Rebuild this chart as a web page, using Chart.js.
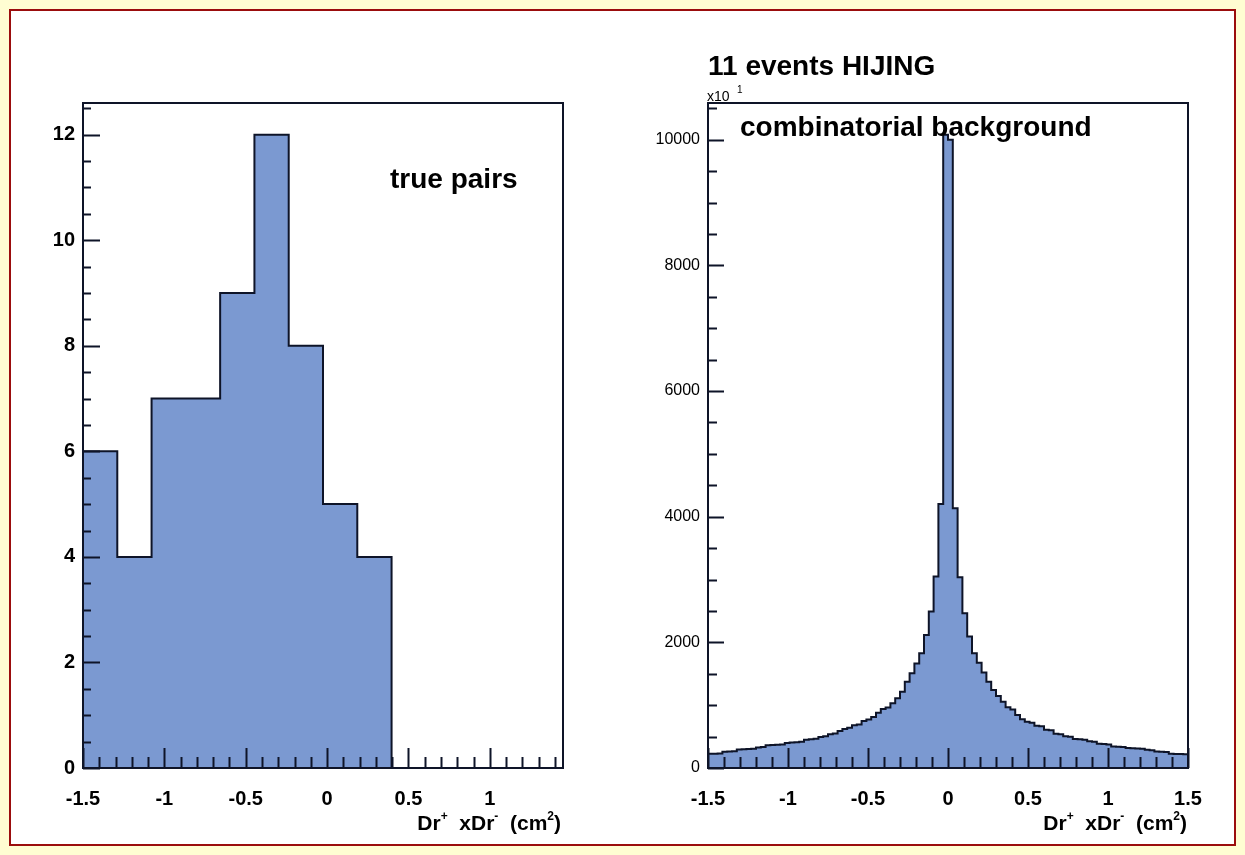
<!DOCTYPE html>
<html lang="en">
<head>
<meta charset="UTF-8">
<title>Dr+ x Dr- : true pairs and combinatorial background</title>
<script src="https://cdn.jsdelivr.net/npm/chart.js"></script>
<style>
  body { margin: 0; background: #fffdd2; width: 1245px; height: 855px; overflow: hidden; position: relative; }
  #frame { position: absolute; left: 9px; top: 9px; width: 1223px; height: 833px; border: 2px solid #9b0d0d; background: #fff; }
  canvas { position: absolute; }
</style>
</head>
<body>
<div id="frame"></div>
<canvas id="truePairs" width="600" height="830" style="left:12px;top:12px;width:600px;height:830px"></canvas>
<canvas id="combBkg" width="621" height="830" style="left:612px;top:12px;width:621px;height:830px"></canvas>

<script>
// true pairs: 14 bins between -1.5 and 1.45
const pairLo = -1.5;
const pairHi = 1.45;
const pairCounts = [6, 4, 7, 7, 9, 12, 8, 5, 4, 0, 0, 0, 0, 0];
const pairXTicks = [-1.5, -1, -0.5, 0, 0.5, 1];
const pairYTicks = [0, 2, 4, 6, 8, 10, 12];

// combinatorial background (x10): 100 bins between -1.5 and 1.5
const bkgLo = -1.5;
const bkgHi = 1.5;
const bkgCounts = [
  225, 228, 232, 258, 262, 265, 296, 300, 304, 308,
  328, 334, 362, 366, 370, 374, 398, 404, 410, 418,
  448, 456, 466, 494, 504, 536, 548, 588, 622, 640,
  680, 694, 748, 770, 810, 880, 940, 962, 1030, 1110,
  1215, 1372, 1508, 1665, 1826, 2118, 2490, 3046, 4200, 10080,
  10000, 4135, 3036, 2463, 2091, 1826, 1677, 1518, 1374, 1242,
  1146, 1056, 966, 930, 844, 775, 735, 720, 672, 664,
  610, 600, 546, 536, 504, 496, 462, 456, 450, 424,
  416, 386, 382, 376, 344, 340, 336, 318, 314, 310,
  306, 290, 284, 264, 260, 256, 226, 224, 222, 220
];
const bkgXTicks = [-1.5, -1, -0.5, 0, 0.5, 1, 1.5];
const bkgYTicks = [0, 2000, 4000, 6000, 8000, 10000];

const FONT = "'Liberation Sans', Arial, Helvetica, sans-serif";
const FILL = '#7b99d1';
const INK = '#0e1428';

// outline points of a histogram, one per bin edge (drawn stepped)
function histPoints(lo, hi, counts) {
  const w = (hi - lo) / counts.length;
  const pts = [{x: lo, y: 0}];
  counts.forEach((c, i) => pts.push({x: lo + i * w, y: c}));
  pts.push({x: hi, y: counts[counts.length - 1]});
  pts.push({x: hi, y: 0});
  return pts;
}

function multiples(min, max, step) {
  const out = [];
  for (let k = Math.ceil(min / step - 1e-6); k * step <= max + 1e-6; k++) out.push(k * step);
  return out;
}

// frame box plus inward tick marks, ROOT style
const axisTicks = {
  id: 'axisTicks',
  afterDatasetsDraw(chart, args, o) {
    const {ctx, chartArea: a} = chart;
    const x = chart.scales.x, y = chart.scales.y;
    const isMajor = (v, step) => Math.abs(v / step - Math.round(v / step)) < 1e-6;
    ctx.save();
    ctx.strokeStyle = INK;
    ctx.lineWidth = 2;
    ctx.beginPath();
    multiples(x.min, x.max, o.xMinor).forEach(v => {
      const len = isMajor(v, o.xMajor) ? o.xMajorLen : o.xMinorLen;
      const px = Math.round(x.getPixelForValue(v)) + 0.5;
      ctx.moveTo(px, a.bottom);
      ctx.lineTo(px, a.bottom - len);
    });
    multiples(y.min, y.max, o.yMinor).forEach(v => {
      const len = isMajor(v, o.yMajor) ? o.yMajorLen : o.yMinorLen;
      const py = Math.round(y.getPixelForValue(v)) + 0.5;
      ctx.moveTo(a.left, py);
      ctx.lineTo(a.left + len, py);
    });
    ctx.stroke();
    ctx.strokeRect(a.left, a.top, a.width, a.height);
    ctx.restore();
  }
};

function drawAxisTitle(ctx, right, baseline) {
  const big = 'bold 21px ' + FONT, sup = 'bold 12px ' + FONT;
  const parts = [['Dr', big, 0], ['+', sup, -10], ['  x', big, 0], ['Dr', big, 0], ['-', sup, -10],
                 ['  (cm', big, 0], ['2', sup, -10], [')', big, 0]];
  let w = 0;
  parts.forEach(p => { ctx.font = p[1]; w += ctx.measureText(p[0]).width; });
  let cx = right - w;
  parts.forEach(p => {
    ctx.font = p[1];
    ctx.fillText(p[0], cx, baseline + p[2]);
    cx += ctx.measureText(p[0]).width;
  });
}

function histConfig(lo, hi, counts, xTicks, yTicks, ymax, yFont, yAxisWidth, padRight, ticks, labels) {
  return {
    type: 'line',
    data: {
      datasets: [{
        data: histPoints(lo, hi, counts),
        stepped: 'before',
        fill: 'origin',
        backgroundColor: FILL,
        borderColor: INK,
        borderWidth: 2,
        pointRadius: 0,
        tension: 0
      }]
    },
    options: {
      responsive: false,
      animation: false,
      layout: {padding: {top: 91, right: padRight, left: 0, bottom: 0}},
      plugins: {legend: {display: false}, tooltip: {enabled: false}, axisTicks: ticks},
      scales: {
        x: {
          type: 'linear', min: lo, max: hi,
          afterBuildTicks: s => { s.ticks = xTicks.map(v => ({value: v})); },
          afterFit: s => { s.height = 74; },
          grid: {display: false, drawTicks: false},
          border: {display: false},
          ticks: {font: {family: FONT, size: 20, weight: 'bold'}, color: '#000', padding: 19,
                  maxRotation: 0, autoSkip: false, callback: v => String(v)}
        },
        y: {
          type: 'linear', min: 0, max: ymax,
          afterBuildTicks: s => { s.ticks = yTicks.map(v => ({value: v})); },
          afterFit: s => { s.width = yAxisWidth; },
          grid: {display: false, drawTicks: false},
          border: {display: false},
          ticks: {font: yFont, color: '#000', padding: 8, autoSkip: false, callback: v => String(v)}
        }
      }
    },
    plugins: [axisTicks, labels]
  };
}

new Chart(document.getElementById('truePairs'), histConfig(
  pairLo, pairHi, pairCounts, pairXTicks, pairYTicks,
  Math.max(...pairCounts) * 1.05,
  {family: FONT, size: 20, weight: 'bold'}, 71, 49,
  {xMinor: 0.1, xMajor: 0.5, xMajorLen: 20, xMinorLen: 11, yMinor: 0.5, yMajor: 2, yMajorLen: 17, yMinorLen: 8},
  {
    id: 'pairLabels',
    afterDraw(chart) {
      const {ctx, chartArea: a} = chart;
      ctx.save();
      ctx.fillStyle = '#000';
      ctx.textBaseline = 'alphabetic';
      ctx.font = 'bold 28px ' + FONT;
      ctx.fillText('true pairs', a.left + 307, a.top + 85);
      drawAxisTitle(ctx, a.right - 2, a.bottom + 62);
      ctx.restore();
    }
  }
));

new Chart(document.getElementById('combBkg'), histConfig(
  bkgLo, bkgHi, bkgCounts, bkgXTicks, bkgYTicks,
  Math.max(...bkgCounts) * 1.05,
  {family: FONT, size: 16}, 96, 45,
  {xMinor: 0.1, xMajor: 0.5, xMajorLen: 20, xMinorLen: 11, yMinor: 500, yMajor: 2000, yMajorLen: 16, yMinorLen: 9},
  {
    id: 'bkgLabels',
    afterDraw(chart) {
      const {ctx, chartArea: a} = chart;
      ctx.save();
      ctx.fillStyle = '#000';
      ctx.textBaseline = 'alphabetic';
      ctx.font = 'bold 28px ' + FONT;
      ctx.fillText('11 events HIJING', a.left, a.top - 28);
      ctx.fillText('combinatorial background', a.left + 32, a.top + 33);
      ctx.font = '14px ' + FONT;
      ctx.fillText('x10', a.left - 1, a.top - 2);
      ctx.font = '10px ' + FONT;
      ctx.fillText('1', a.left + 29, a.top - 10);
      drawAxisTitle(ctx, a.right - 1, a.bottom + 62);
      ctx.restore();
    }
  }
));
</script>
</body>
</html>
